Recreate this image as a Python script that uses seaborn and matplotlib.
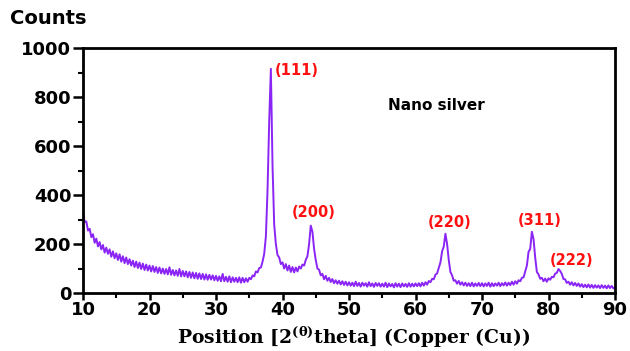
import matplotlib
matplotlib.use("Agg")
import matplotlib.pyplot as plt
from matplotlib.ticker import MultipleLocator
import pandas as pd
import seaborn as sns

two_theta = [10 + 0.25 * i for i in range(321)]
counts = [
    # 10 - 14.75
    330, 290, 292, 255, 262, 228, 240, 205, 222, 190, 208, 178, 196, 165, 185, 160, 178, 148, 170, 142,
    # 15 - 19.75
    162, 135, 158, 128, 150, 122, 145, 118, 138, 112, 132, 106, 128, 102, 124, 98, 120, 94, 116, 92,
    # 20 - 24.75
    112, 88, 110, 86, 106, 82, 104, 80, 100, 78, 98, 76, 105, 74, 94, 72, 92, 70, 98, 68,
    # 25 - 29.75
    90, 68, 88, 64, 86, 62, 84, 60, 82, 58, 80, 57, 78, 55, 76, 54, 74, 55, 72, 52,
    # 30 - 34.75
    70, 50, 68, 48, 78, 48, 66, 46, 68, 44, 64, 46, 62, 44, 64, 42, 62, 44, 60, 46,
    # 35 - 39.75
    62, 56, 72, 68, 88, 84, 102, 104, 128, 160, 230, 420, 700, 915, 520, 280, 200, 155, 145, 118,
    # 40 - 44.75
    125, 100, 118, 92, 112, 86, 106, 84, 104, 88, 108, 100, 116, 112, 135, 150, 200, 275, 250, 180,
    # 45 - 49.75
    135, 100, 95, 72, 78, 56, 70, 50, 62, 45, 57, 40, 52, 38, 50, 35, 48, 33, 46, 31,
    # 50 - 54.75
    44, 30, 42, 28, 46, 29, 41, 26, 42, 30, 40, 26, 44, 28, 39, 25, 41, 29, 40, 26,
    # 55 - 59.75
    38, 26, 42, 24, 39, 27, 37, 23, 40, 26, 38, 24, 39, 27, 37, 25, 40, 26, 38, 27,
    # 60 - 64.75
    39, 28, 40, 27, 42, 30, 44, 34, 49, 44, 58, 56, 75, 80, 102, 125, 170, 190, 242, 200,
    # 65 - 69.75
    135, 86, 72, 50, 52, 38, 49, 34, 44, 31, 42, 29, 40, 28, 42, 27, 39, 29, 41, 28,
    # 70 - 74.75
    40, 27, 39, 29, 42, 26, 40, 28, 39, 30, 42, 28, 40, 31, 43, 30, 42, 32, 46, 34,
    # 75 - 79.75
    48, 38, 52, 48, 62, 64, 88, 112, 168, 180, 250, 220, 145, 86, 76, 58, 62, 48, 59, 46,
    # 80 - 84.75
    60, 54, 66, 64, 79, 82, 98, 90, 78, 57, 56, 41, 46, 34, 44, 31, 41, 29, 39, 26,
    # 85 - 90
    36, 24, 34, 23, 35, 22, 33, 21, 32, 22, 31, 20, 32, 21, 30, 19, 31, 20, 29, 19, 22,
]

peak_labels = ["(111)", "(200)", "(220)", "(311)", "(222)"]
peak_x = [42.2, 44.7, 65.2, 78.7, 83.4]
peak_y = [910, 327, 286, 294, 131]

x_ticks = [10, 20, 30, 40, 50, 60, 70, 80, 90]
y_ticks = [0, 200, 400, 600, 800, 1000]

sns.set_style("white")
plt.rcParams["font.family"] = ["DejaVu Sans"]
plt.rcParams["mathtext.fontset"] = "dejavuserif"
plt.rcParams["text.color"] = "black"
plt.rcParams["xtick.color"] = "black"
plt.rcParams["ytick.color"] = "black"

df = pd.DataFrame({"two_theta": two_theta, "counts": counts})

fig = plt.figure(figsize=(6.3, 3.51), dpi=100)
ax = fig.add_axes([83 / 630, 1 - 293 / 351, (615 - 83) / 630, (293 - 48) / 351])

sns.lineplot(data=df, x="two_theta", y="counts", ax=ax, color="#8A25F5", linewidth=1.4)

ax.set_xlim(10, 90)
ax.set_ylim(0, 1000)
ax.set_xticks(x_ticks)
ax.set_yticks(y_ticks)
ax.xaxis.set_minor_locator(MultipleLocator(5))
ax.yaxis.set_minor_locator(MultipleLocator(100))
ax.tick_params(axis="x", which="major", direction="out", length=5, width=1.8,
               labelsize=13, bottom=True, top=False, pad=0.5, colors="black")
ax.tick_params(axis="y", which="major", direction="out", length=7, width=1.8,
               labelsize=13, left=True, right=False, pad=1.5, colors="black")
ax.tick_params(axis="both", which="minor", direction="out", length=3.5, width=1.5,
               bottom=True, left=True, top=False, right=False, colors="black")
for lab in ax.get_xticklabels() + ax.get_yticklabels():
    lab.set_fontweight("bold")
for sp in ax.spines.values():
    sp.set_visible(True)
    sp.set_color("black")
    sp.set_linewidth(2)

ax.set_xlabel("")
ax.set_ylabel("")
fig.text(354 / 630, 1 - 344 / 351,
         r"Position [2$^{\mathbf{(\theta)}}$theta] (Copper (Cu))",
         ha="center", va="baseline", fontsize=13.5, fontweight="bold",
         family=["DejaVu Serif"], color="black")
fig.text(10 / 630, 1 - 18 / 351, "Counts", ha="left", va="center",
         fontsize=14, fontweight="bold", color="black")

for lab, px, py in zip(peak_labels, peak_x, peak_y):
    ax.text(px, py, lab, color="#FF1010", fontsize=10.5, fontweight="bold",
            ha="center", va="center")

ax.text(63.1, 767, "Nano silver", fontsize=11, fontweight="bold", ha="center",
        va="center", color="black")

fig.savefig("out.png", dpi=100)
